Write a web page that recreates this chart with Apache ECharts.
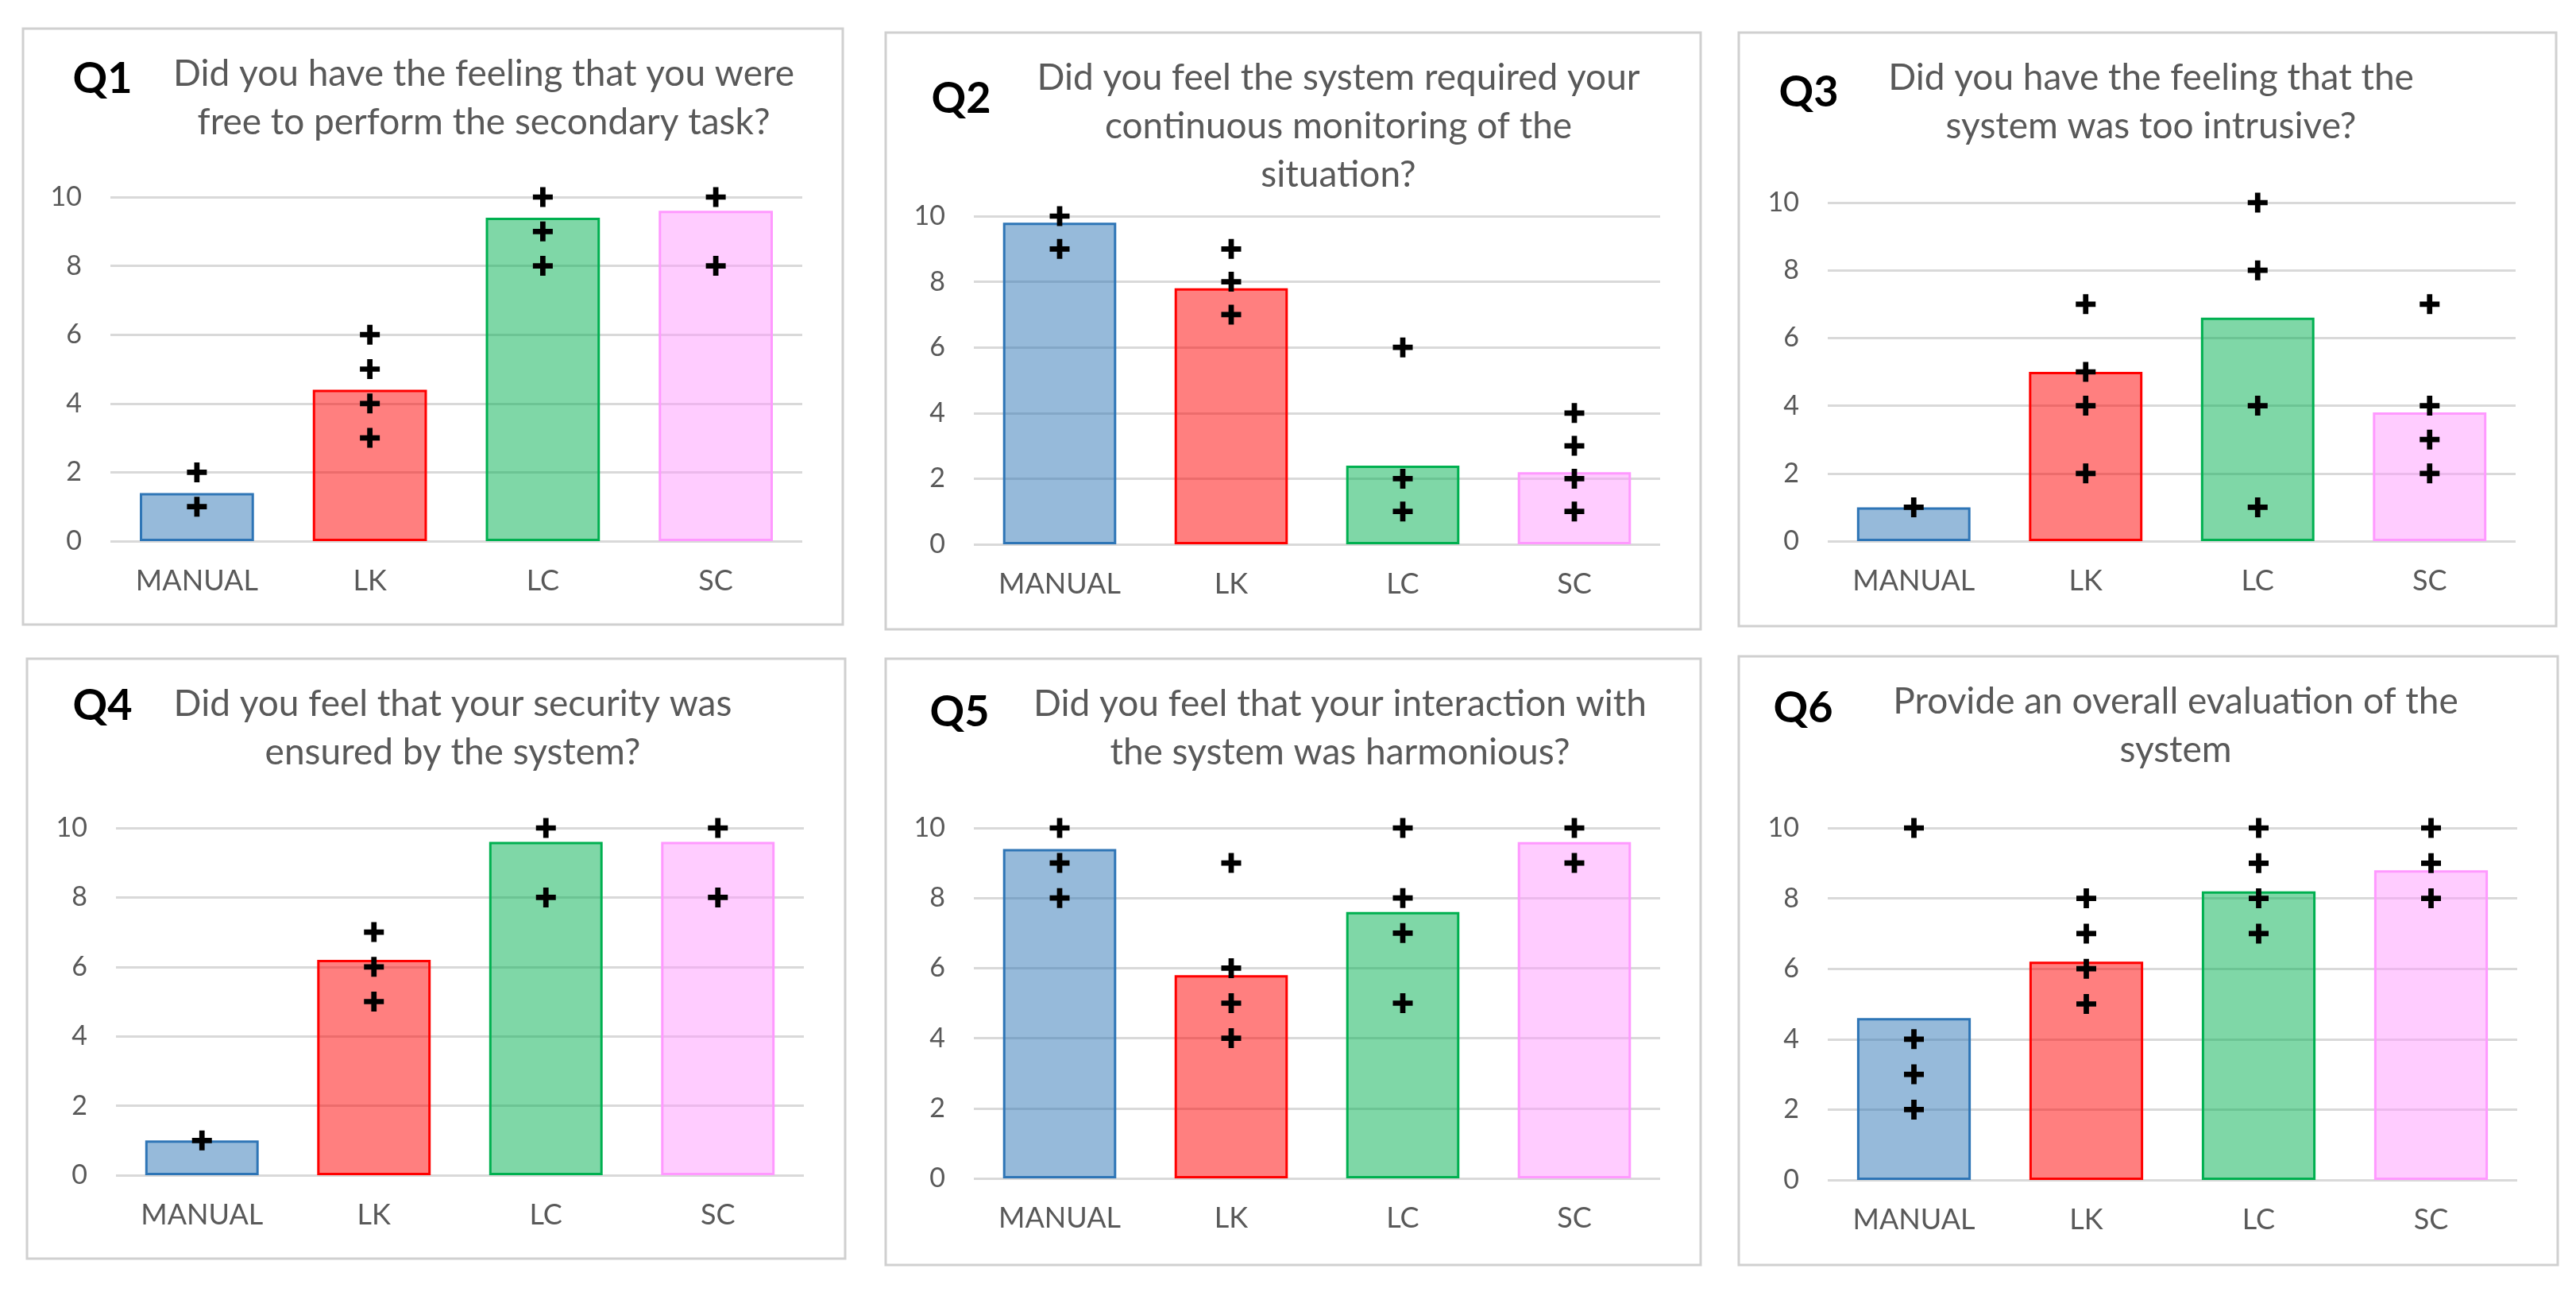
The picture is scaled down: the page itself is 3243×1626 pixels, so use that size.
<!DOCTYPE html>
<html>
<head>
<meta charset="utf-8">
<script src="https://cdn.jsdelivr.net/npm/echarts@6/dist/echarts.min.js"></script>
<style>
html, body { margin: 0; padding: 0; background: #fff; }
#main { width: 3243px; height: 1626px; }
</style>
</head>
<body>
<div id="main"></div>
<script>
var categories = ['MANUAL', 'LK', 'LC', 'SC'];
var yTicks = [0, 10, 2]; // min, max, interval

// mean bars + individual answers (crosses) per question
var q1Mean = [1.4, 4.4, 9.4, 9.6];
var q1Answers = [[1, 2], [3, 4, 5, 6], [8, 9, 10], [8, 10]];
var q2Mean = [9.8, 7.8, 2.4, 2.2];
var q2Answers = [[9, 10], [7, 8, 9], [1, 2, 6], [1, 2, 3, 4]];
var q3Mean = [1.0, 5.0, 6.6, 3.8];
var q3Answers = [[1], [2, 4, 5, 7], [1, 4, 8, 10], [2, 3, 4, 7]];
var q4Mean = [1.0, 6.2, 9.6, 9.6];
var q4Answers = [[1], [5, 6, 7], [8, 10], [8, 10]];
var q5Mean = [9.4, 5.8, 7.6, 9.6];
var q5Answers = [[8, 9, 10], [4, 5, 6, 9], [5, 7, 8, 10], [9, 10]];
var q6Mean = [4.6, 6.2, 8.2, 8.8];
var q6Answers = [[2, 3, 4, 10], [5, 6, 7, 8], [7, 8, 9, 10], [8, 9, 10]];

var q1Title = ['Did you have the feeling that you were', 'free to perform the secondary task?'];
var q2Title = ['Did you feel the system required your', 'continuous monitoring of the', 'situation?'];
var q3Title = ['Did you have the feeling that the', 'system was too intrusive?'];
var q4Title = ['Did you feel that your security was', 'ensured by the system?'];
var q5Title = ['Did you feel that your interaction with', 'the system was harmonious?'];
var q6Title = ['Provide an overall evaluation of the', 'system'];

var barFill = ['rgba(46,117,182,0.5)', 'rgba(255,0,0,0.5)', 'rgba(0,176,80,0.5)', 'rgba(255,153,255,0.5)'];
var barEdge = ['#2E75B6', '#FF0000', '#00B050', '#FF99FF'];
var plus = 'path://M9.5,0H16.5V9.5H26V16.5H16.5V26H9.5V16.5H0V9.5H9.5Z';

var panels = [
    { q: 'Q1', mean: q1Mean, answers: q1Answers, title: q1Title,
      box: [29, 36, 1032, 750], grid: [139, 248, 871, 433], qPos: [129, 100], tPos: [609, 94] },
    { q: 'Q2', mean: q2Mean, answers: q2Answers, title: q2Title,
      box: [1115, 41, 1026, 751], grid: [1226, 272, 864, 413], qPos: [1210, 125], tPos: [1685, 99] },
    { q: 'Q3', mean: q3Mean, answers: q3Answers, title: q3Title,
      box: [2189, 41, 1029, 747], grid: [2301, 255, 866, 426], qPos: [2277, 117], tPos: [2708, 99] },
    { q: 'Q4', mean: q4Mean, answers: q4Answers, title: q4Title,
      box: [34, 829, 1030, 755], grid: [146, 1042, 866, 437], qPos: [129, 889], tPos: [570, 887] },
    { q: 'Q5', mean: q5Mean, answers: q5Answers, title: q5Title,
      box: [1115, 829, 1026, 763], grid: [1226, 1042, 864, 441], qPos: [1208, 897], tPos: [1687, 887] },
    { q: 'Q6', mean: q6Mean, answers: q6Answers, title: q6Title,
      box: [2189, 826, 1031, 766], grid: [2301, 1042, 868, 443], qPos: [2270, 892], tPos: [2739, 884] }
];

(function () {
    var myChart = echarts.init(document.querySelector('#main'));
    var grids = [], xAxes = [], yAxes = [], series = [], graphics = [];

    panels.forEach(function (p, k) {
        grids.push({ left: p.grid[0], top: p.grid[1], width: p.grid[2], height: p.grid[3] });
        xAxes.push({
            gridIndex: k,
            type: 'category',
            data: categories,
            axisLine: { show: false },
            axisTick: { show: false },
            axisLabel: { color: '#595959', fontSize: 36, fontFamily: 'Lato', margin: 32 }
        });
        yAxes.push({
            gridIndex: k,
            type: 'value',
            min: yTicks[0],
            max: yTicks[1],
            interval: yTicks[2],
            axisLine: { show: false },
            axisTick: { show: false },
            axisLabel: { color: '#595959', fontSize: 34, fontFamily: 'Lato', margin: 36 },
            splitLine: { lineStyle: { color: '#D9D9D9', width: 3 } }
        });
        series.push({
            type: 'bar',
            xAxisIndex: k,
            yAxisIndex: k,
            barWidth: '66%',
            data: p.mean.map(function (v, i) {
                return { value: v, itemStyle: { color: barFill[i], borderColor: barEdge[i], borderWidth: 3 } };
            })
        });
        var pts = [];
        p.answers.forEach(function (list, i) {
            list.forEach(function (v) { pts.push([categories[i], v]); });
        });
        series.push({
            type: 'scatter',
            xAxisIndex: k,
            yAxisIndex: k,
            symbol: plus,
            symbolSize: 25,
            itemStyle: { color: '#000', opacity: 1 },
            z: 5,
            data: pts
        });

        graphics.push({
            type: 'rect',
            shape: { x: p.box[0], y: p.box[1], width: p.box[2], height: p.box[3] },
            style: { fill: null, stroke: '#D0D0D0', lineWidth: 3 }
        });
        graphics.push({
            type: 'text',
            x: p.qPos[0], y: p.qPos[1],
            style: { text: p.q, fill: '#000', fontSize: 54, fontWeight: 'bold', fontFamily: 'Lato',
                     align: 'center', verticalAlign: 'middle' }
        });
        graphics.push({
            type: 'text',
            x: p.tPos[0], y: p.tPos[1] - 31,
            style: { text: p.title.join('\n'), fill: '#595959', fontSize: 46, fontFamily: 'Lato',
                     align: 'center', verticalAlign: 'top', lineHeight: 61 }
        });
    });

    myChart.setOption({
        backgroundColor: '#fff',
        animation: false,
        grid: grids,
        xAxis: xAxes,
        yAxis: yAxes,
        series: series,
        graphic: graphics
    });
})();
</script>
</body>
</html>
